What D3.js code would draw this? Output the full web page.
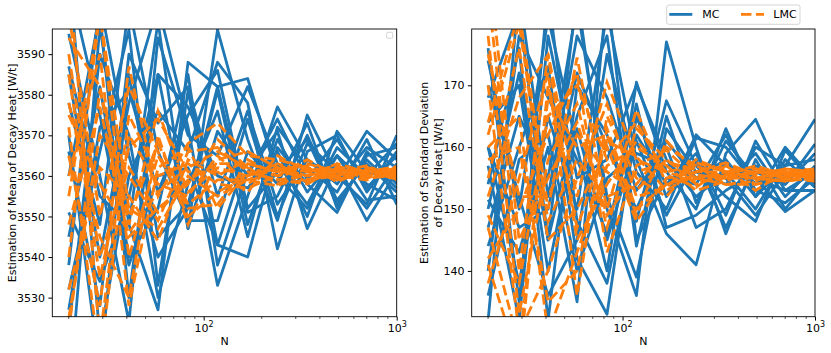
<!DOCTYPE html>
<html>
<head>
<meta charset="utf-8">
<script src="https://cdn.jsdelivr.net/npm/d3@7"></script>
<style>
  body { margin: 0; background: #fff; }
  svg { font-family: "DejaVu Sans", sans-serif; }
</style>
</head>
<body>
<div class="graph"></div>
<script>
// sample sizes (x values)
const nValues = [20, 29, 41, 58, 83, 118, 169, 241, 344, 491, 700, 1000];

// left panel: estimated mean of decay heat, MC runs
const meanMC = [
  [3505, 3597, 3548, 3527, 3588, 3582, 3584, 3560, 3552, 3565, 3558, 3554],
  [3585, 3540, 3578, 3602, 3572, 3533, 3555, 3577, 3564, 3559, 3571, 3564],
  [3560, 3600, 3530, 3585, 3547, 3596, 3569, 3549, 3575, 3560, 3553, 3570],
  [3532, 3566, 3596, 3533, 3581, 3543, 3540, 3567, 3558, 3551, 3566, 3558],
  [3612, 3520, 3560, 3576, 3566, 3588, 3578, 3542, 3566, 3570, 3556, 3566],
  [3545, 3582, 3540, 3552, 3585, 3538, 3561, 3571, 3547, 3563, 3549, 3561],
  [3570, 3512, 3585, 3545, 3553, 3582, 3551, 3555, 3570, 3554, 3563, 3556],
  [3595, 3560, 3524, 3594, 3570, 3565, 3582, 3563, 3553, 3567, 3560, 3568],
  [3522, 3590, 3570, 3530, 3558, 3576, 3545, 3572, 3562, 3556, 3569, 3553],
  [3578, 3548, 3602, 3566, 3549, 3549, 3574, 3550, 3568, 3561, 3552, 3563],
  [3551, 3534, 3555, 3585, 3577, 3560, 3557, 3566, 3550, 3571, 3561, 3559],
  [3608, 3575, 3538, 3560, 3562, 3543, 3566, 3558, 3573, 3552, 3565, 3567],
  [3538, 3603, 3565, 3540, 3552, 3581, 3548, 3569, 3556, 3565, 3554, 3555],
  [3566, 3528, 3590, 3573, 3582, 3555, 3576, 3553, 3564, 3558, 3567, 3562],
  [3587, 3555, 3548, 3598, 3547, 3571, 3560, 3574, 3559, 3569, 3557, 3565],
  [3527, 3572, 3581, 3556, 3575, 3586, 3552, 3561, 3569, 3553, 3564, 3557]
];

// left panel: estimated mean, LMC runs
const meanLMC = [
  [3594, 3582, 3548, 3576, 3556, 3562, 3560, 3563, 3559, 3561.5, 3559.5, 3561],
  [3565, 3528, 3587, 3555, 3568, 3573, 3565, 3564, 3562, 3559, 3561.5, 3560],
  [3540, 3600, 3552, 3547, 3560, 3555, 3559, 3557.5, 3561, 3562.5, 3560, 3562],
  [3578, 3545, 3530, 3570, 3548, 3564, 3566, 3562, 3558.5, 3561, 3562.5, 3559.5],
  [3610, 3520, 3575, 3560, 3563, 3558, 3557, 3560, 3564, 3560, 3559, 3561.5],
  [3525, 3570, 3560, 3549, 3566, 3567, 3561, 3559, 3560, 3562, 3561, 3562.3],
  [3555, 3600, 3540, 3565, 3552, 3553, 3563, 3561, 3562.5, 3558.5, 3561.5, 3559],
  [3585, 3535, 3567, 3574, 3561, 3561, 3556, 3565, 3561, 3561, 3560, 3560.5],
  [3548, 3577, 3545, 3552, 3558, 3569, 3562, 3558, 3559, 3560, 3562, 3561],
  [3600, 3550, 3582, 3566, 3550, 3556, 3560, 3562, 3560, 3563, 3561, 3559.2],
  [3532, 3562, 3555, 3544, 3564, 3560, 3564, 3560, 3562, 3561, 3559.5, 3560],
  [3572, 3515, 3570, 3558, 3555, 3565, 3558, 3563, 3561, 3559.5, 3561, 3561.5],
  [3560, 3590, 3528, 3562, 3567, 3552, 3561, 3559, 3558, 3562, 3560, 3562],
  [3590, 3540, 3562, 3551, 3559, 3563, 3563, 3561, 3563, 3561, 3562, 3560],
  [3522, 3581, 3550, 3568, 3553, 3559, 3559, 3562, 3560, 3560, 3560.5, 3561],
  [3575, 3558, 3546, 3556, 3562, 3566, 3562, 3560, 3561.5, 3561.5, 3560, 3559.8]
];

// right panel: estimated standard deviation, MC runs
const stdMC = [
  [174, 150, 181, 160, 140, 170.5, 156, 150, 163, 152, 157, 164.5],
  [168, 182, 145, 185, 150, 136, 177, 160, 146, 158, 150, 156],
  [160, 138, 165, 150, 182, 158, 146, 141, 159, 164.5, 154, 160.5],
  [154, 176, 132, 170, 162, 148, 167.5, 157, 152, 148, 159.5, 154],
  [144, 160, 173, 142, 133, 165, 152, 162, 157, 155, 153, 153],
  [132, 185, 152, 178, 168, 153, 160, 147, 150, 160, 157, 158],
  [151.5, 143, 160, 135, 185, 145, 155, 154, 162, 153, 151, 155],
  [164, 170, 140, 163, 145, 161, 149, 158, 147, 157, 155, 156.5],
  [157, 132, 178, 155, 158, 170, 158, 152, 156, 150, 158, 153.5],
  [147, 165, 155, 183, 152, 139, 163, 156, 154, 159, 152, 157],
  [170, 152, 136, 145, 175, 156, 150, 161.5, 160, 154, 156, 155],
  [140, 178, 168, 158, 146, 167, 147, 149, 153, 156, 154, 159],
  [160, 147, 150, 172, 160, 150, 161, 155, 158, 152, 160, 154.5],
  [176, 135, 185, 148, 138, 162, 154, 159, 149, 161, 153, 156],
  [150, 172, 145, 165, 178, 144, 165, 151, 161, 155, 149.6, 153],
  [136, 158, 162, 140, 155, 159, 157, 157, 155, 149, 156, 155.5]
];

// right panel: estimated standard deviation, LMC runs
const stdLMC = [
  [185, 140, 175, 152, 170.5, 158, 156, 157, 155, 156, 155.5, 155.5],
  [164, 182, 150, 174.5, 150, 166, 154, 155, 156, 155, 156, 155],
  [147, 128, 168, 160, 162, 149, 161, 156, 157, 154, 155, 156],
  [160, 165, 130, 143, 157, 160, 157, 153, 154.5, 156.5, 156, 155.5],
  [138, 155, 172, 136, 165, 155, 152, 157.5, 156, 155, 154.5, 156],
  [178, 133, 158, 167, 147, 163, 158, 154, 155.5, 157, 155.5, 155],
  [155, 176, 145, 150, 160, 148, 155, 156, 157.5, 155.5, 156.5, 156],
  [142, 150, 162, 172, 143, 157, 159.5, 155, 154, 154, 155, 155.5],
  [170, 130, 140, 155, 167, 152, 153.5, 158, 156, 156, 156, 156.5],
  [152, 168, 174.9, 145, 154, 161, 156, 154.5, 155, 155, 154.5, 155],
  [190, 145, 155, 164, 149, 156, 157.5, 156.5, 156.5, 153, 156, 155.5],
  [158, 160, 135, 140, 163, 150, 154, 155.5, 155, 156, 155.5, 156],
  [149, 138, 165, 170, 158, 164, 155.5, 153.5, 157, 155.5, 155, 154.5],
  [162, 180, 148, 158, 152, 154, 160, 157, 154, 154.5, 156.5, 156],
  [141, 125, 170, 147, 161, 158.5, 153, 156, 156, 156.5, 155, 155.5],
  [175, 152, 152, 162, 156, 153, 158, 155, 155.5, 155, 155.5, 156]
];

const meanTicks = [3530, 3540, 3550, 3560, 3570, 3580, 3590];
const stdTicks = [140, 150, 160, 170];
const xMajor = [100, 1000];
const xMinor = [20, 30, 40, 50, 60, 70, 80, 90, 200, 300, 400, 500, 600, 700, 800, 900];
const legendNames = ["MC", "LMC"];

const blue = "#1f77b4", orange = "#ff7f0e";
const W = 831, H = 353;
const plotTop = 29, plotBottom = 316.7;

const svg = d3.select(".graph").append("svg")
  .attr("width", W).attr("height", H);

function drawPanel(id, left, right, yDomain, yTicks, mc, lmc, labelLines) {
  const x = d3.scaleLog().domain([16.44, 1000]).range([left, right]);
  const y = d3.scaleLinear().domain(yDomain).range([plotBottom, plotTop]);

  svg.append("clipPath").attr("id", id)
    .append("rect")
    .attr("x", left).attr("y", plotTop)
    .attr("width", right - left).attr("height", plotBottom - plotTop);

  const line = d3.line()
    .x((d, i) => x(nValues[i]))
    .y(d => y(d));

  const g = svg.append("g").attr("clip-path", "url(#" + id + ")");

  g.selectAll(".mc").data(mc).join("path")
    .attr("class", "mc")
    .attr("fill", "none")
    .attr("stroke", blue)
    .attr("stroke-width", 2.8)
    .attr("stroke-linejoin", "round")
    .attr("d", line);

  g.selectAll(".lmc").data(lmc).join("path")
    .attr("class", "lmc")
    .attr("fill", "none")
    .attr("stroke", orange)
    .attr("stroke-width", 2.8)
    .attr("stroke-dasharray", "10.4,4.5")
    .attr("d", line);

  // y axis
  const ya = svg.append("g")
    .attr("transform", "translate(" + left + ",0)")
    .call(d3.axisLeft(y).tickValues(yTicks).tickSize(3.9).tickPadding(3.3).tickFormat(d3.format("d")));
  ya.select(".domain").remove();
  ya.selectAll("text").attr("font-size", 11).attr("font-family", "DejaVu Sans").attr("fill", "#000");

  // x axis, major ticks with 10^k labels
  const xa = svg.append("g")
    .attr("transform", "translate(0," + plotBottom + ")")
    .call(d3.axisBottom(x).tickValues(xMajor).tickSize(3.9).tickPadding(3.3).tickFormat(""));
  xa.select(".domain").remove();
  xa.selectAll(".tick text").each(function(d) {
    const t = d3.select(this).attr("font-size", 11).attr("font-family", "DejaVu Sans").attr("fill", "#000");
    t.append("tspan").text("10");
    t.append("tspan").attr("font-size", 8).attr("dy", -4.5).text(Math.round(Math.log10(d)));
  });

  // minor ticks
  svg.append("g").selectAll("line").data(xMinor).join("line")
    .attr("x1", d => x(d)).attr("x2", d => x(d))
    .attr("y1", plotBottom).attr("y2", plotBottom + 2.2)
    .attr("stroke", "#000").attr("stroke-width", 0.7);

  // frame
  svg.append("rect")
    .attr("x", left).attr("y", plotTop)
    .attr("width", right - left).attr("height", plotBottom - plotTop)
    .attr("fill", "none").attr("stroke", "#000").attr("stroke-width", 0.9);

  // x label
  svg.append("text")
    .attr("x", (left + right) / 2).attr("y", 345)
    .attr("text-anchor", "middle").attr("font-size", 11)
    .text("N");

  // y label (one or two lines)
  labelLines.forEach(function(l) {
    svg.append("text")
      .attr("transform", "translate(" + l.x + "," + (plotTop + plotBottom) / 2 + ") rotate(-90)")
      .attr("text-anchor", "middle").attr("font-size", 11)
      .text(l.text);
  });
}

drawPanel("clipL", 52.3, 396.7, [3525.3, 3596.2], meanTicks, meanMC, meanLMC,
  [{ x: 15.5, text: "Estimation of Mean of Decay Heat [W/t]" }]);
drawPanel("clipR", 471.7, 815, [132.6, 179.1], stdTicks, stdMC, stdLMC,
  [{ x: 428, text: "Estimation of Standard Deviation" },
   { x: 441.5, text: "of Decay Heat [W/t]" }]);

// empty legend box in the left panel
svg.append("rect")
  .attr("x", 386.7).attr("y", 32.3).attr("width", 6).attr("height", 6)
  .attr("rx", 1.2).attr("fill", "#fff").attr("stroke", "#d0d0d0").attr("stroke-width", 0.9);

// legend above the right panel
const lg = svg.append("g");
lg.append("rect")
  .attr("x", 666.7).attr("y", 5).attr("width", 133.3).attr("height", 19.3)
  .attr("rx", 2).attr("fill", "#fff").attr("stroke", "#d0d0d0").attr("stroke-width", 0.9);
const items = [
  { name: legendNames[0], color: blue, dash: null, x: 669.3, tx: 702.3 },
  { name: legendNames[1], color: orange, dash: "10.4,4.5", x: 741, tx: 773.3 }
];
items.forEach(function(it) {
  lg.append("line")
    .attr("x1", it.x).attr("x2", it.x + 23).attr("y1", 14.4).attr("y2", 14.4)
    .attr("stroke", it.color).attr("stroke-width", 2.8)
    .attr("stroke-dasharray", it.dash);
  lg.append("text")
    .attr("x", it.tx).attr("y", 18.3).attr("font-size", 11)
    .text(it.name);
});
</script>
</body>
</html>
